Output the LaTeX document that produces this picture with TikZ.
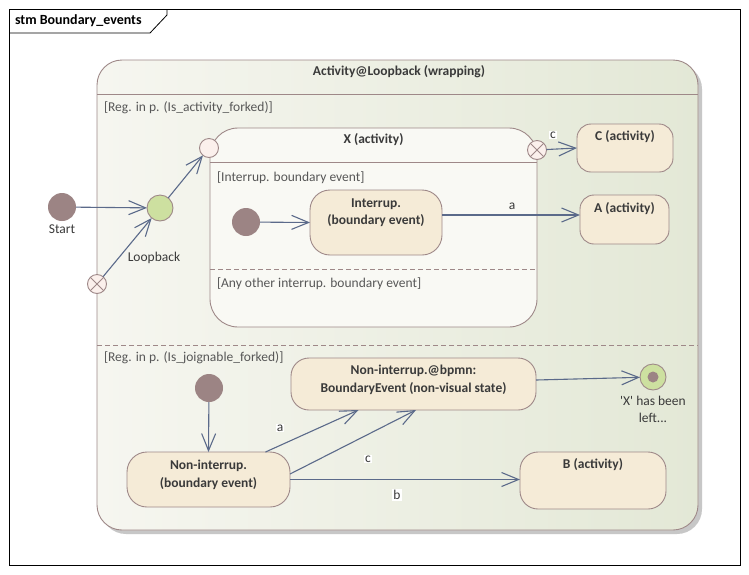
\documentclass[tikz,border=0pt]{standalone}
\usepackage{fontspec}
\setmainfont{Carlito}
\usetikzlibrary{arrows.meta,calc}
\definecolor{bd}{HTML}{9E8888}
\definecolor{stfill}{HTML}{F5EBD7}
\definecolor{arr}{HTML}{5B6A8A}
\definecolor{dot}{HTML}{9C8484}
\definecolor{grn}{HTML}{CDE0A0}
\definecolor{txt}{HTML}{3A3A3A}
\definecolor{ptfill}{HTML}{FBF0EC}
\definecolor{bgl}{HTML}{F6F6F0}
\definecolor{bgr}{HTML}{E3E8D6}
\begin{document}
\begin{tikzpicture}[x=1pt,y=-1pt,font=\fontsize{13.5}{17}\selectfont,text=txt,
  every node/.style={inner sep=0pt,outer sep=0pt},
  st/.style={draw=bd,fill=stfill,line width=0.9pt,rounded corners=#1},
  st/.default=16pt,
  ttl/.style={font=\fontsize{13.5}{17.5}\selectfont\bfseries,align=center},
  reg/.style={text=txt!85,anchor=west},
  initst/.style={circle,fill=dot,minimum size=28pt},
  ptst/.style={circle,draw=bd,fill=ptfill,line width=0.9pt,minimum size=19pt},
  exitst/.style={ptst,path picture={\draw[bd,line width=0.9pt]
     (path picture bounding box.south west)--(path picture bounding box.north east)
     (path picture bounding box.north west)--(path picture bounding box.south east);}},
  conn/.style={draw=arr,line width=1.1pt,-{Straight Barb[length=17pt,width=14pt,line width=1.1pt]}},
  lbl/.style={fill=white,inner sep=1pt}]
\useasboundingbox (0,0) rectangle (749,574);
\fill[white] (0,0) rectangle (749,574);
% frame
\draw[black,line width=0.8pt] (9,9) rectangle (740,565);
\draw[black,line width=0.8pt] (9,33) -- (150,33) -- (167,15) -- (167,9);
\node[anchor=west,font=\fontsize{14}{16}\selectfont\bfseries,text=black] (frametitle) at (15,21) {stm Boundary\_events};
% big composite
\fill[black!22,rounded corners=25pt] (101,64) rectangle (702,534);
\node[st=25pt,left color=bgl,right color=bgr,minimum width=601pt,minimum height=470pt] (wrap) at (397.5,295) {};
\draw[bd,line width=0.9pt] (97,94) -- (698,94);
\node[ttl] (wraptitle) at (399,72) {Activity@Loopback (wrapping)};
\draw[bd,line width=0.9pt,dash pattern=on 5pt off 3pt] (97,345) -- (698,345);
\node[reg] (reg1) at (104,108) {[Reg. in p. (Is\_activity\_forked)]};
\node[reg] (reg2) at (104,358) {[Reg. in p. (Is\_joignable\_forked)]};
% X composite
\node[st=28pt,fill=bgl!70!white,minimum width=327pt,minimum height=199pt] (X) at (373.5,227.5) {};
\draw[bd,line width=0.9pt] (210,162) -- (537,162);
\node[ttl] (Xtitle) at (373.5,140) {X (activity)};
\node[reg] (reg3) at (217,178) {[Interrup. boundary event]};
\draw[bd,line width=0.9pt,dash pattern=on 5pt off 3pt] (210,269) -- (537,269);
\node[reg] (reg4) at (217,284) {[Any other interrup. boundary event]};
% states
\node[st=20pt,minimum width=132pt,minimum height=65pt] (intr) at (376,222.5) {};
\node[ttl,anchor=north] (intrt) at (376,198.5) {Interrup.\\(boundary event)};
\node[st=14pt,minimum width=89pt,minimum height=49pt] (A) at (624.5,219.5) {};
\node[ttl,anchor=north] (At) at (624.5,202) {A (activity)};
\node[st=14pt,minimum width=96pt,minimum height=48pt] (C) at (625,148) {};
\node[ttl,anchor=north] (Ct) at (625,130) {C (activity)};
\node[st=18pt,minimum width=245pt,minimum height=52pt] (bpmn) at (413.5,384) {};
\node[ttl,anchor=north] (bpmnt) at (413.5,365.5) {Non-interrup.@bpmn:\\BoundaryEvent (non-visual state)};
\node[st=20pt,minimum width=163pt,minimum height=55pt] (nonint) at (208.5,479.5) {};
\node[ttl,anchor=north] (nonintt) at (208.5,460.5) {Non-interrup.\\(boundary event)};
\node[st=18pt,minimum width=146pt,minimum height=57pt] (B) at (593,480.5) {};
\node[ttl,anchor=north] (Bt) at (593,458) {B (activity)};
% pseudo states
\node[initst] (start) at (62,207) {};
\node (startl) at (62,229) {Start};
\node[circle,draw=bd,fill=grn,line width=0.9pt,minimum size=26pt] (loop) at (160,208) {};
\node (loopl) at (154,258) {Loopback};
\node[exitst] (exitw) at (97,284) {};
\node[ptst] (entry) at (209,148) {};
\node[exitst] (exitx) at (537,150) {};
\node[initst] (init1) at (246,222) {};
\node[initst] (init2) at (209,388) {};
\node[circle,draw=bd,fill=grn,line width=0.9pt,minimum size=26pt] (final) at (653,377) {};
\node[circle,fill=dot,minimum size=11pt] (finaldot) at (final) {};
\node[anchor=north,align=center] (finall) at (653,396) {\textquotesingle X\textquotesingle{} has been\\left...};
% connectors
\draw[conn] (start) -- (loop);
\draw[conn] (exitw) -- (loop);
\draw[conn] (loop) -- (entry);
\draw[conn] (exitx) -- (C.west);
\node[lbl] (lc) at (553,135) {c};
\draw[conn] (init1) -- (intr.west);
\draw[conn] ([yshift=7.5pt]intr.east) -- ([yshift=4.5pt]A.west);
\node (la) at (512,206) {a};
\draw[conn] (init2) -- (nonint.north);
\draw[conn] ([xshift=57pt]nonint.north) -- ([xshift=-55pt]bpmn.south);
\node[lbl] (la2) at (280,428) {a};
\draw[conn] ([yshift=5.5pt]nonint.east) -- ([xshift=2.5pt]bpmn.south);
\node[lbl] (lc2) at (368,459) {c};
\draw[conn] (nonint.east) -- (nonint.east -| B.west);
\node[lbl] (lb) at (397,495) {b};
\draw[conn] ([yshift=4pt]bpmn.east) -- (final);
\end{tikzpicture}
\end{document}
